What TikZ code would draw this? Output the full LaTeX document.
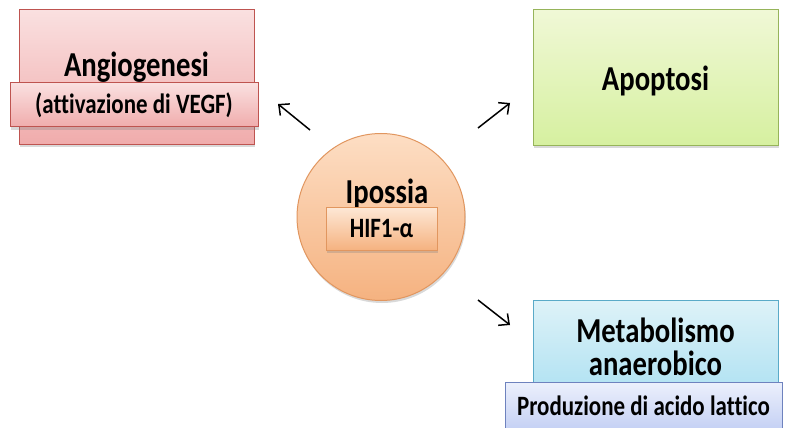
\documentclass[tikz,border=0pt]{standalone}
\usepackage{fontspec}
\setmainfont{Carlito}[Ligatures=NoCommon]
\newfontfamily\tallfont{Carlito}[FakeStretch=0.82, Ligatures=NoCommon]
\usetikzlibrary{positioning, shadows, shapes.geometric, arrows.meta}

\definecolor{pinkA}{RGB}{250,224,224}
\definecolor{pinkB}{RGB}{240,172,172}
\definecolor{pinkE}{RGB}{190,84,80}
\definecolor{greenA}{RGB}{240,248,214}
\definecolor{greenB}{RGB}{214,240,160}
\definecolor{greenE}{RGB}{150,180,90}
\definecolor{orangeA}{RGB}{253,222,196}
\definecolor{orangeB}{RGB}{245,178,128}
\definecolor{orangeE}{RGB}{225,150,95}
\definecolor{blueA}{RGB}{222,242,248}
\definecolor{blueB}{RGB}{160,220,240}
\definecolor{blueE}{RGB}{90,170,200}
\definecolor{lilacA}{RGB}{236,240,252}
\definecolor{lilacB}{RGB}{196,208,244}
\definecolor{lilacE}{RGB}{110,130,190}

\begin{document}
\begin{tikzpicture}[x=1pt, y=-1pt, >={Straight Barb[length=8pt,width=15pt]},
    box/.style={rectangle, draw, line width=1pt, inner sep=0pt,
      drop shadow={shadow xshift=1pt, shadow yshift=-2.5pt, opacity=0.3}},
    title/.style={font=\tallfont\bfseries\fontsize{35}{34}\selectfont, anchor=base},
    tag/.style={box, font=\tallfont\bfseries\fontsize{28}{30}\selectfont},
    link/.style={->, line width=1.5pt}]

  \useasboundingbox (0,0) rectangle (788,428);

  % angiogenesi
  \node[box, minimum width=235pt, minimum height=134pt, draw=pinkE,
    top color=pinkA, bottom color=pinkB] (angio) at (136.5,77) {};
  \node[title] (angiot) at (136.5,77) {Angiogenesi};
  \node[tag, minimum width=248pt, minimum height=44pt, draw=pinkE,
    top color=pinkA, bottom color=pinkB] (vegf) at (134,105) {(attivazione di VEGF)};

  % apoptosi
  \node[box, minimum width=245pt, minimum height=135pt, draw=greenE,
    top color=greenA, bottom color=greenB] (apo) at (655.5,77.5) {};
  \node[title] (apot) at (655.5,91) {Apoptosi};

  % ipossia
  \node[ellipse, draw=orangeE, line width=1pt, minimum width=168pt, minimum height=167pt,
    top color=orangeA, bottom color=orangeB,
    drop shadow={shadow xshift=1pt, shadow yshift=-2.5pt, opacity=0.3}] (hyp) at (381,217) {};
  \node[title] (hypt) at (387,203) {Ipossia};
  \node[tag, minimum width=111pt, minimum height=43pt, draw=orangeE,
    top color=orangeA!70!white, bottom color=orangeB] (hif) at (381.5,228.5) {HIF1-α};

  % metabolismo anaerobico
  \node[box, minimum width=245pt, minimum height=124pt, draw=blueE,
    top color=blueA, bottom color=blueB] (meta) at (655.5,362) {};
  \node[title] (metat) at (655.5,342) {Metabolismo};
  \node[title] (metat2) at (655.5,375) {anaerobico};
  \node[tag, minimum width=277pt, minimum height=48pt, draw=lilacE,
    top color=lilacA, bottom color=lilacB] (latt) at (643.5,406) {Produzione di acido lattico};

  % frecce
  \coordinate (a1) at (310,130); \coordinate (a2) at (278,104);
  \coordinate (b1) at (478,128); \coordinate (b2) at (510,103);
  \coordinate (c1) at (478,300); \coordinate (c2) at (510,325);
  \draw[link] (a1) -- (a2);
  \draw[link] (b1) -- (b2);
  \draw[link] (c1) -- (c2);
\end{tikzpicture}
\end{document}
